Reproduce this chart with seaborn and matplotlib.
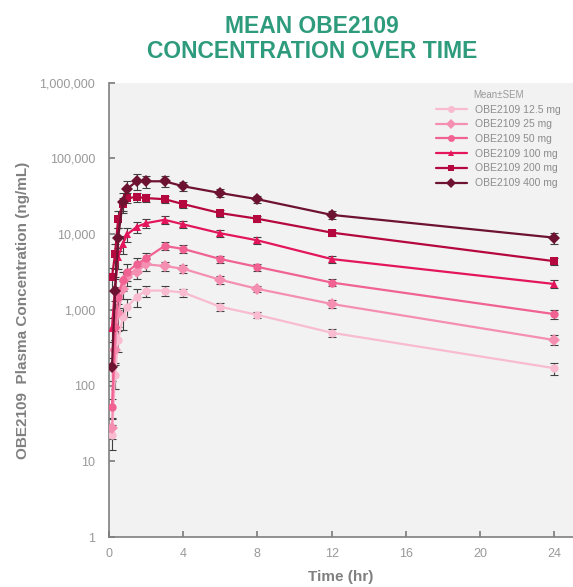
import matplotlib
matplotlib.use("Agg")
import matplotlib.pyplot as plt
import matplotlib.ticker as mticker
import seaborn as sns
import pandas as pd

# time points (hr)
times = [0.167, 0.333, 0.5, 0.75, 1, 1.5, 2, 3, 4, 6, 8, 12, 24]

doses = ["OBE2109 12.5 mg", "OBE2109 25 mg", "OBE2109 50 mg",
         "OBE2109 100 mg", "OBE2109 200 mg", "OBE2109 400 mg"]

# mean concentrations (ng/mL)
mean_12 = [22, 140, 400, 800, 1100, 1500, 1800, 1800, 1700, 1100, 860, 500, 170]
mean_25 = [28, 300, 900, 1900, 2700, 3200, 4000, 3800, 3500, 2500, 1900, 1200, 400]
mean_50 = [52, 600, 1500, 2500, 3200, 4000, 4800, 7000, 6400, 4700, 3700, 2300, 880]
mean_100 = [580, 2000, 5000, 7500, 10000, 12500, 14000, 15500, 13500, 10300, 8300, 4700, 2200]
mean_200 = [2700, 5500, 16000, 25000, 30000, 31000, 30000, 29000, 25000, 19000, 16000, 10500, 4400]
mean_400 = [175, 1800, 9000, 27000, 40000, 50000, 50000, 50000, 43000, 35000, 29000, 18000, 9000]

# SEM (ng/mL)
sem_12 = [8, 50, 120, 250, 300, 400, 300, 250, 200, 120, 80, 60, 30]
sem_25 = [8, 100, 300, 500, 600, 600, 700, 500, 400, 300, 200, 150, 60]
sem_50 = [15, 200, 500, 700, 800, 900, 800, 900, 700, 500, 400, 250, 120]
sem_100 = [200, 700, 1500, 2000, 2200, 2000, 2000, 2000, 1500, 1200, 900, 500, 250]
sem_200 = [900, 2000, 4000, 5000, 4500, 4000, 3500, 3000, 2500, 2000, 1500, 1000, 450]
sem_400 = [60, 800, 3000, 8000, 10000, 12000, 9000, 8000, 6000, 4000, 3000, 2000, 1500]

means = [mean_12, mean_25, mean_50, mean_100, mean_200, mean_400]
sems = [sem_12, sem_25, sem_50, sem_100, sem_200, sem_400]

colors = ["#F8BBD0", "#F48FB1", "#F06292", "#E3165B", "#B5083F", "#6D1230"]
markers = ["o", "D", "o", "^", "s", "D"]
msizes = [5, 5.5, 6, 7, 7.5, 6]

rows = []
for d, m in zip(doses, means):
    for t, v in zip(times, m):
        rows.append({"Time": t, "Conc": v, "Dose": d})
df = pd.DataFrame(rows)

sns.set_theme(style="ticks")
plt.rcParams["font.family"] = ["Liberation Sans", "DejaVu Sans"]

fig = plt.figure(figsize=(5.73, 5.87), dpi=100)
ax = fig.add_axes([0.190, 0.085, 0.81, 0.774])
ax.set_facecolor("#F2F2F2")

for m, s in zip(means, sems):
    ax.errorbar(times, m, yerr=s, fmt="none", ecolor="#404040",
                elinewidth=0.8, capsize=3, capthick=0.8, zorder=2)

sns.lineplot(data=df, x="Time", y="Conc", hue="Dose", style="Dose",
             hue_order=doses, style_order=doses,
             palette=dict(zip(doses, colors)),
             markers=dict(zip(doses, markers)), dashes=False,
             linewidth=1.6, markersize=6, markeredgewidth=0,
             ax=ax, zorder=3)

for line, ms in zip(ax.get_lines()[-6:], msizes):
    line.set_markersize(ms)

ax.set_yscale("log")
ax.set_ylim(1, 1e6)
ax.set_xlim(0, 25)
ax.set_xticks([0, 4, 8, 12, 16, 20, 24])
ax.yaxis.set_major_formatter(mticker.FuncFormatter(lambda v, p: f"{int(round(v)):,}"))
ax.yaxis.set_minor_locator(mticker.NullLocator())

for sp in ["top", "right"]:
    ax.spines[sp].set_visible(False)
for sp in ["left", "bottom"]:
    ax.spines[sp].set_color("#7f7f7f")
    ax.spines[sp].set_linewidth(1.2)
ax.tick_params(axis="both", direction="in", length=4, color="#7f7f7f",
               labelcolor="#999999", labelsize=9)
ax.tick_params(axis="x", pad=8)
ax.tick_params(axis="y", pad=10)

ax.set_xlabel("Time (hr)", fontsize=11, fontweight="bold", color="#808080", labelpad=7)
ax.set_ylabel("OBE2109  Plasma Concentration (ng/mL)", fontsize=11,
              fontweight="bold", color="#808080", labelpad=7)

leg = ax.legend(title="Mean±SEM", loc="upper right", frameon=False,
                fontsize=7.5, title_fontsize=7, bbox_to_anchor=(0.99, 1.0),
                handlelength=3, labelcolor="#8c8c8c", borderaxespad=0.3,
                labelspacing=0.45)
leg.get_title().set_color("#9a9a9a")
for h in leg.legend_handles:
    h.set_markersize(5)

fig.text(0.545, 0.934, "MEAN OBE2109\nCONCENTRATION OVER TIME", ha="center",
         va="center", fontsize=16.5, fontweight="bold", color="#2E9B7C",
         linespacing=1.1)

fig.savefig("out.png", dpi=100)
